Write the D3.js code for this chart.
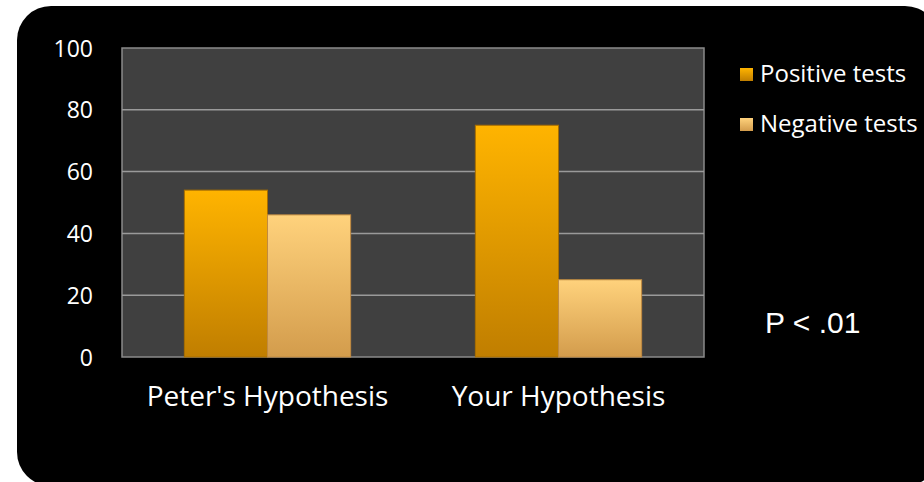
<!DOCTYPE html>
<html>
<head>
<meta charset="utf-8">
<script src="https://d3js.org/d3.v7.min.js"></script>
<style>
  body { margin: 0; background: #fff; }
  svg text { font-family: "Open Sans", Lato, sans-serif; }
</style>
</head>
<body>
<script>
// chart data
var categories = ["Peter's Hypothesis", "Your Hypothesis"];
var seriesNames = ["Positive tests", "Negative tests"];
var positiveTests = [54, 75];
var negativeTests = [46, 25];
var yTicks = [0, 20, 40, 60, 80, 100];

var W = 924, H = 482;
var plot = {left: 122, top: 48, right: 704, bottom: 357};

var svg = d3.select("body").append("svg")
    .attr("width", W)
    .attr("height", H);

// gradients for the two series
var defs = svg.append("defs");
var grads = [
  {id: "gPos", top: "#ffb400", bottom: "#c07e00"},
  {id: "gNeg", top: "#ffd27c", bottom: "#d39c4c"}
];
grads.forEach(function(g) {
  var lg = defs.append("linearGradient").attr("id", g.id)
      .attr("x1", 0).attr("y1", 0).attr("x2", 0).attr("y2", 1);
  lg.append("stop").attr("offset", "0%").attr("stop-color", g.top);
  lg.append("stop").attr("offset", "100%").attr("stop-color", g.bottom);
});

// black rounded panel
svg.append("rect")
    .attr("x", 17).attr("y", 6)
    .attr("width", 922).attr("height", 480)
    .attr("rx", 34).attr("ry", 34)
    .attr("fill", "#000");

// plot area
svg.append("rect")
    .attr("x", plot.left).attr("y", plot.top)
    .attr("width", plot.right - plot.left)
    .attr("height", plot.bottom - plot.top)
    .attr("fill", "#404040")
    .attr("stroke", "#8a8a8a")
    .attr("stroke-width", 1.5);

var x0 = d3.scaleBand()
    .domain(categories)
    .range([plot.left, plot.right])
    .paddingInner(0)
    .paddingOuter(0);

var x1 = d3.scaleBand()
    .domain(seriesNames)
    .range([0, x0.bandwidth()])
    .paddingInner(0)
    .paddingOuter(0.75);

var y = d3.scaleLinear()
    .domain([0, 100])
    .range([plot.bottom, plot.top]);

// gridlines
svg.append("g")
  .selectAll("line")
  .data(yTicks.filter(function(d) { return d > 0 && d < 100; }))
  .join("line")
    .attr("x1", plot.left).attr("x2", plot.right)
    .attr("y1", function(d) { return y(d); })
    .attr("y2", function(d) { return y(d); })
    .attr("stroke", "#9a9a9a")
    .attr("stroke-width", 1.5);

// y axis
var yAxis = svg.append("g")
    .attr("transform", "translate(" + plot.left + ",0)")
    .call(d3.axisLeft(y).tickValues(yTicks).tickSize(0).tickPadding(29));
yAxis.select(".domain").remove();
yAxis.selectAll("text")
    .attr("fill", "#fff")
    .style("font-size", "23px")
    .attr("dy", "0.35em");

// x axis
var xAxis = svg.append("g")
    .attr("transform", "translate(0," + plot.bottom + ")")
    .call(d3.axisBottom(x0).tickSize(0).tickPadding(29));
xAxis.select(".domain").remove();
xAxis.selectAll("text")
    .attr("fill", "#fff")
    .style("font-size", "28px");

// bars
var rows = categories.map(function(c, i) {
  return {cat: c, values: [positiveTests[i], negativeTests[i]]};
});

var groups = svg.append("g")
  .selectAll("g")
  .data(rows)
  .join("g")
    .attr("transform", function(d) { return "translate(" + x0(d.cat) + ",0)"; });

groups.selectAll("rect")
  .data(function(d) {
    return d.values.map(function(v, j) { return {name: seriesNames[j], value: v, j: j}; });
  })
  .join("rect")
    .attr("x", function(d) { return x1(d.name); })
    .attr("y", function(d) { return y(d.value); })
    .attr("width", x1.bandwidth())
    .attr("height", function(d) { return y(0) - y(d.value); })
    .attr("fill", function(d) { return "url(#" + grads[d.j].id + ")"; })
    .attr("stroke", function(d) { return d.j === 0 ? "#a86e00" : "#c08a40"; })
    .attr("stroke-width", 1);

// legend
var legend = svg.append("g")
  .selectAll("g")
  .data(seriesNames)
  .join("g")
    .attr("transform", function(d, i) { return "translate(740," + (68 + i * 50) + ")"; });

legend.append("rect")
    .attr("width", 13).attr("height", 13)
    .attr("fill", function(d, i) { return "url(#" + grads[i].id + ")"; });

legend.append("text")
    .attr("x", 20).attr("y", 14)
    .attr("fill", "#fff")
    .style("font-size", "24px")
    .text(function(d) { return d; });

// significance note
svg.append("text")
    .attr("x", 765).attr("y", 333)
    .attr("fill", "#fff")
    .style("font-family", "'Liberation Sans', Arial, sans-serif")
    .style("font-size", "30px")
    .text("P < .01");
</script>
</body>
</html>
